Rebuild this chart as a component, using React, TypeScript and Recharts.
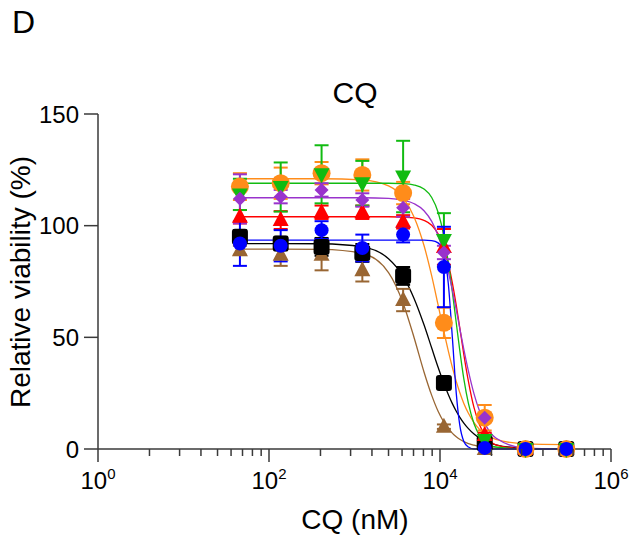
import { ComposedChart, Scatter, Line, XAxis, YAxis, ErrorBar } from 'recharts';

// concentrations (nM), 3-fold dilution series
const conc = [45.7, 137, 412, 1235, 3704, 11111, 33333, 100000, 300000];

// mean relative viability (%) and error per cell line
const blackY = [95, 92, 90.5, 87.8, 77.5, 29.5, 2.6, 0, 0];
const blackErr = [3, 3, 4, 4, 4, 1, 0.5, 0, 0];
const brownY = [89, 87, 87, 80, 66.7, 10, 0, 0, 0];
const brownErr = [2, 5, 7, 5, 5, 1, 0, 0, 0];
const blueY = [92, 91, 98, 90, 96, 81.5, 0.5, 0, 0];
const blueErr = [10, 7, 4, 6, 3.5, 18, 0, 0, 0];
const orangeY = [117.5, 119, 123.5, 122.7, 114.6, 56.5, 14, 0, 0];
const orangeErr = [6, 7, 5, 7, 5, 6.8, 5.7, 0, 0];
const greenY = [114, 117.3, 123, 119, 122, 93.6, 4, 0, 0];
const greenErr = [7, 11, 13, 10, 16, 12, 0, 0, 0];
const purpleY = [112, 113, 116, 111.5, 108, 88, 14, 0, 0];
const purpleErr = [11, 3, 3, 3, 4, 3, 2, 0, 0];
const redY = [104, 102.5, 106, 106, 101.7, 90.5, 6.3, 0, 0];
const redErr = [3, 4, 3, 3, 3, 8, 1, 0, 0];

// fitted curves at these concentrations
const curveX = [45.7, 137, 412, 1235, 2500, 3704, 5000, 6500, 8000, 9500, 11111, 12500,
  14000, 15500, 17000, 19000, 21500, 25000, 29000, 33333, 45000, 100000, 300000];
const blackFit = [92, 92, 91.9, 90.5, 85.2, 77.3, 67.2, 55.6, 45.2, 36.6, 29.3, 24.4,
  20.2, 16.9, 14.3, 11.6, 9.1, 6.7, 4.9, 3.7, 1.9, 0.3, 0];
const brownFit = [89.5, 89.5, 89.4, 87.6, 79, 65.3, 49.6, 34.5, 24, 16.9, 12, 9.2,
  7, 5.5, 4.4, 3.3, 2.4, 1.7, 1.1, 0.8, 0.4, 0, 0];
const blueFit = [93.5, 93.5, 93.5, 93.5, 93.5, 93.5, 93.5, 93.5, 93.3, 92.3, 87.2, 74.1,
  49.1, 24.9, 10.9, 3.4, 0.9, 0, 0, 0, 0, 0, 0];
const orangeFit = [121, 121, 121, 120.5, 117.8, 112.4, 103.7, 91.1, 77.5, 64.5, 52.5, 43.9,
  36.3, 30.3, 25.4, 20.4, 16, 11.8, 8.8, 6.8, 4.3, 2.3, 2];
const greenFit = [119, 119, 119, 119, 119, 118.8, 118.2, 116.4, 112.6, 106, 95.3, 83.6,
  69.9, 56.4, 44.4, 31.4, 20.4, 11.3, 6.1, 3.3, 0.9, 0, 0];
const purpleFit = [112.5, 112.5, 112.5, 112.5, 112.2, 111.4, 109.8, 106.7, 101.9, 95.5, 87.3, 79.4,
  70.8, 62.3, 54.2, 44.6, 34.9, 24.7, 17, 11.6, 4.9, 0.4, 0];
const redFit = [104, 104, 104, 104, 104, 103.8, 103.5, 102.4, 100.2, 96.3, 90.2, 83.1,
  74.1, 64.3, 54.5, 42.3, 30.3, 18.5, 10.9, 6.3, 1.9, 0.1, 0];

const majorTicks = [1, 100, 10000, 1000000];
const minorTicks = [1, 100, 10000].flatMap(m => [2, 3, 4, 5, 6, 7, 8, 9].map(k => m * k * k));

const FONT = '"Liberation Sans", Arial, sans-serif';
const AXIS = '#3a3a3a';

const toPoints = (ys: number[], errs: number[]) =>
  conc.map((x, i) => ({ x, y: ys[i], e: errs[i] }));
const toCurve = (ys: number[]) => curveX.map((x, i) => ({ x, y: ys[i] }));

const Marker = ({ cx, cy, kind, color }: any) => {
  if (cx == null || cy == null) return null;
  switch (kind) {
    case 'square':
      return <rect x={cx - 8} y={cy - 8} width={16} height={16} rx={3} fill={color} />;
    case 'bigCircle':
      return <circle cx={cx} cy={cy} r={9} fill={color} />;
    case 'circle':
      return <circle cx={cx} cy={cy} r={7} fill={color} />;
    case 'up':
      return <polygon points={`${cx},${cy - 9} ${cx - 8},${cy + 6} ${cx + 8},${cy + 6}`} fill={color} />;
    case 'down':
      return <polygon points={`${cx},${cy + 9} ${cx - 8},${cy - 6} ${cx + 8},${cy - 6}`} fill={color} />;
    case 'diamond':
      return <polygon points={`${cx},${cy - 7} ${cx + 7},${cy} ${cx},${cy + 7} ${cx - 7},${cy}`} fill={color} />;
    default:
      return null;
  }
};

// drawn bottom to top
const series = [
  { name: 'brown', color: '#996633', kind: 'up', pts: toPoints(brownY, brownErr), fit: toCurve(brownFit) },
  { name: 'black', color: '#000000', kind: 'square', pts: toPoints(blackY, blackErr), fit: toCurve(blackFit) },
  { name: 'red', color: '#ff0000', kind: 'up', pts: toPoints(redY, redErr), fit: toCurve(redFit) },
  { name: 'orange', color: '#ff8c1a', kind: 'bigCircle', pts: toPoints(orangeY, orangeErr), fit: toCurve(orangeFit) },
  { name: 'green', color: '#11bb11', kind: 'down', pts: toPoints(greenY, greenErr), fit: toCurve(greenFit) },
  { name: 'purple', color: '#9933cc', kind: 'diamond', pts: toPoints(purpleY, purpleErr), fit: toCurve(purpleFit) },
  { name: 'blue', color: '#0000ff', kind: 'circle', pts: toPoints(blueY, blueErr), fit: toCurve(blueFit) },
];

const XTick = ({ x, y, payload }: any) => {
  const v = payload.value;
  const major = majorTicks.includes(v);
  if (!major) {
    return <line x1={x} y1={y} x2={x} y2={y + 7} stroke={AXIS} strokeWidth={1.5} />;
  }
  const exp = Math.round(Math.log10(v));
  return (
    <g>
      <line x1={x} y1={y} x2={x} y2={y + 13} stroke={AXIS} strokeWidth={1.5} />
      <text x={x} y={y + 40} textAnchor="middle" fontSize={24} fill="#000" fontFamily={FONT}>
        10<tspan dy={-10} fontSize={15}>{exp}</tspan>
      </text>
    </g>
  );
};

export default function App() {
  return (
    <div style={{ position: 'relative', width: 636, height: 551, background: '#fff' }}>
      <style>{'body{margin:0;}'}</style>
      <ComposedChart width={636} height={551} margin={{ top: 114, right: 25, bottom: 0, left: 0 }}>
        <XAxis
          dataKey="x"
          type="number"
          scale="log"
          domain={[1, 1000000]}
          ticks={[...majorTicks, ...minorTicks]}
          interval={0}
          height={102}
          tickSize={0}
          tickMargin={0}
          tickLine={false}
          tick={<XTick />}
          axisLine={{ stroke: AXIS, strokeWidth: 1.5 }}
        />
        <YAxis
          type="number"
          domain={[0, 150]}
          ticks={[0, 50, 100, 150]}
          width={98}
          tickSize={14}
          tickMargin={5}
          tickLine={{ stroke: AXIS, strokeWidth: 1.5 }}
          axisLine={{ stroke: AXIS, strokeWidth: 1.5 }}
          tick={{ fontSize: 24, fill: '#000', fontFamily: FONT }}
        />
        {series.map(s => (
          <Line
            key={`fit-${s.name}`}
            data={s.fit}
            dataKey="y"
            type="monotone"
            stroke={s.color}
            strokeWidth={1.3}
            dot={false}
            activeDot={false}
            isAnimationActive={false}
          />
        ))}
        {series.map(s => (
          <Scatter
            key={`pts-${s.name}`}
            data={s.pts}
            dataKey="y"
            fill={s.color}
            isAnimationActive={false}
            shape={(p: any) => <Marker cx={p.cx} cy={p.cy} kind={s.kind} color={s.color} />}
          >
            <ErrorBar dataKey="e" direction="y" width={7} stroke={s.color} strokeWidth={2} />
          </Scatter>
        ))}
      </ComposedChart>
      <svg width={636} height={551} style={{ position: 'absolute', left: 0, top: 0, pointerEvents: 'none' }}
        fontFamily={FONT}>
        <text x={12} y={33} fontSize={32} fill="#000">D</text>
        <text x={355} y={103} fontSize={30} fill="#000" textAnchor="middle">CQ</text>
        <text x={355} y={529} fontSize={28} fill="#000" textAnchor="middle">CQ (nM)</text>
        <text x={0} y={0} fontSize={28} fill="#000" textAnchor="middle"
          transform="translate(30,282) rotate(-90)">Relative viability (%)</text>
      </svg>
    </div>
  );
}
